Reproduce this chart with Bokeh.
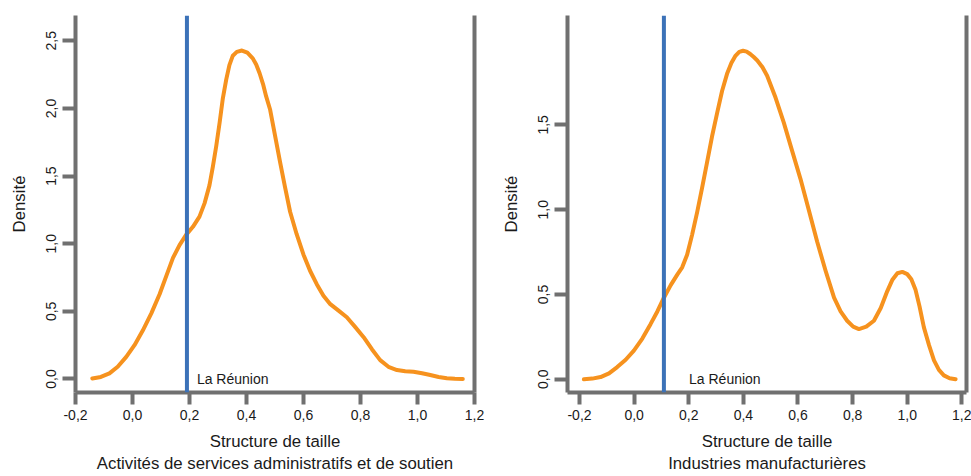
from bokeh.plotting import figure
from bokeh.layouts import row
from bokeh.models import (Range1d, FixedTicker, CustomJSTickFormatter, Span,
                          LinearAxis)
from bokeh.core.properties import value
from bokeh.embed import file_html
from bokeh.resources import INLINE

# ---------------- data ----------------
x_ticks = [-0.2, 0.0, 0.2, 0.4, 0.6, 0.8, 1.0, 1.2]
y_ticks_left = [0.0, 0.5, 1.0, 1.5, 2.0, 2.5]
y_ticks_right = [0.0, 0.5, 1.0, 1.5]

x_label = "Structure de taille"
y_label = "Densité"
ref_label = "La Réunion"
sector_left = "Activités de services administratifs et de soutien"
sector_right = "Industries manufacturières"

left_x = [-0.141, -0.111, -0.081, -0.052, -0.022, 0.007, 0.036, 0.066, 0.095, 0.120,
          0.142, 0.165, 0.188, 0.212, 0.235, 0.253, 0.270, 0.282, 0.294, 0.306,
          0.317, 0.329, 0.340, 0.352, 0.366, 0.384, 0.403, 0.422, 0.434, 0.446,
          0.458, 0.469, 0.483, 0.500, 0.518, 0.535, 0.553, 0.576, 0.600, 0.623,
          0.647, 0.670, 0.694, 0.723, 0.752, 0.781, 0.811, 0.840, 0.869, 0.898,
          0.928, 0.957, 0.986, 1.016, 1.045, 1.074, 1.103, 1.131, 1.159]
left_y = [0.004, 0.015, 0.041, 0.090, 0.163, 0.250, 0.358, 0.485, 0.626, 0.770,
          0.895, 0.990, 1.065, 1.125, 1.200, 1.300, 1.431, 1.570, 1.724, 1.900,
          2.075, 2.215, 2.320, 2.390, 2.418, 2.428, 2.412, 2.370, 2.325, 2.260,
          2.180, 2.089, 1.990, 1.800, 1.602, 1.420, 1.236, 1.070, 0.919, 0.800,
          0.699, 0.615, 0.553, 0.505, 0.456, 0.385, 0.309, 0.220, 0.139, 0.090,
          0.066, 0.057, 0.053, 0.042, 0.029, 0.015, 0.006, 0.002, 0.000]

right_x = [-0.184, -0.153, -0.123, -0.092, -0.062, -0.031, -0.001, 0.030, 0.060, 0.085,
           0.109, 0.134, 0.158, 0.176, 0.194, 0.212, 0.231, 0.249, 0.267, 0.285,
           0.304, 0.322, 0.341, 0.356, 0.370, 0.385, 0.399, 0.412, 0.425, 0.438,
           0.451, 0.470, 0.487, 0.518, 0.548, 0.578, 0.609, 0.640, 0.670, 0.701,
           0.732, 0.756, 0.780, 0.802, 0.823, 0.850, 0.878, 0.903, 0.927, 0.945,
           0.964, 0.982, 1.000, 1.015, 1.030, 1.045, 1.061, 1.080, 1.098, 1.116,
           1.134, 1.155, 1.177]
right_y = [0.000, 0.004, 0.013, 0.035, 0.072, 0.115, 0.169, 0.240, 0.325, 0.400,
           0.481, 0.555, 0.617, 0.660, 0.734, 0.850, 0.987, 1.130, 1.279, 1.430,
           1.571, 1.700, 1.805, 1.865, 1.905, 1.930, 1.937, 1.932, 1.918, 1.900,
           1.880, 1.840, 1.790, 1.660, 1.513, 1.350, 1.182, 0.995, 0.812, 0.640,
           0.481, 0.400, 0.345, 0.310, 0.296, 0.310, 0.345, 0.420, 0.520, 0.585,
           0.625, 0.633, 0.620, 0.590, 0.530, 0.430, 0.306, 0.200, 0.111, 0.055,
           0.023, 0.006, 0.000]

reunion_left = 0.191
reunion_right = 0.109
reunion_label_x_left = 0.226
reunion_label_x_right = 0.201

# ---------------- style ----------------
GRAY = "#707070"
ORANGE = "#F6921E"
BLUE = "#3C72B8"
TXT = "#1a1a1a"
FONT = "Liberation Sans"

fmt_code = "const v = Math.abs(tick) < 1e-9 ? 0 : tick; return v.toFixed(1).replace('.', ',');"


def make_panel(xs, ys, reunion, label_x, yticks, xr, yr, width, mbl, mbr, sector):
    p = figure(width=width, height=476, x_range=Range1d(*xr), y_range=Range1d(*yr),
               output_backend="svg", toolbar_location=None,
               min_border_left=mbl, min_border_right=mbr,
               min_border_top=15, min_border_bottom=80)
    p.outline_line_color = None
    p.grid.visible = False
    p.background_fill_color = "white"
    p.border_fill_color = "white"

    for ax in (p.xaxis[0], p.yaxis[0]):
        ax.axis_line_color = GRAY
        ax.axis_line_width = 4
        ax.major_tick_line_color = GRAY
        ax.major_tick_line_width = 4
        ax.major_tick_in = 0
        ax.minor_tick_line_color = None
        ax.major_label_text_font = FONT
        ax.major_label_text_font_size = "14px"
        ax.major_label_text_color = TXT
        ax.axis_label_text_font = FONT
        ax.axis_label_text_font_size = "16.8px"
        ax.axis_label_text_font_style = "normal"
        ax.axis_label_text_color = TXT
        ax.formatter = CustomJSTickFormatter(code=fmt_code)

    xa = p.xaxis[0]
    xa.ticker = FixedTicker(ticks=x_ticks)
    xa.major_tick_out = 12
    xa.major_label_standoff = 5
    xa.axis_label = x_label + "\n" + sector
    xa.axis_label_standoff = 9

    ya = p.yaxis[0]
    ya.ticker = FixedTicker(ticks=yticks)
    ya.major_tick_out = 13
    ya.major_label_standoff = 6
    ya.major_label_orientation = "vertical"
    ya.axis_label = y_label
    ya.axis_label_standoff = 15

    ra = LinearAxis(ticker=FixedTicker(ticks=[]), axis_line_color=GRAY, axis_line_width=4,
                    major_tick_line_color=None, minor_tick_line_color=None,
                    major_tick_out=0, major_tick_in=0, major_label_standoff=0,
                    major_label_text_font_size="0px")
    p.add_layout(ra, "right")

    p.line(xs, ys, line_color=ORANGE, line_width=4, line_join="round", line_cap="round")
    p.add_layout(Span(location=reunion, dimension="height", line_color=BLUE, line_width=4))
    p.text(x=[label_x], y=[0.0], text=[ref_label], text_font=value(FONT),
           text_font_size="14px", text_baseline="middle", text_align="left",
           text_color=TXT)
    return p


p1 = make_panel(left_x, left_y, reunion_left, reunion_label_x_left, y_ticks_left,
                (-0.2, 1.2), (-0.1, 2.687), 490, 75, 16, sector_left)
p2 = make_panel(right_x, right_y, reunion_right, reunion_label_x_right, y_ticks_right,
                (-0.244, 1.217), (-0.078, 2.145), 481, 77, 5, sector_right)

layout = row(p1, p2)
open("out.html", "w").write(file_html(layout, INLINE))
